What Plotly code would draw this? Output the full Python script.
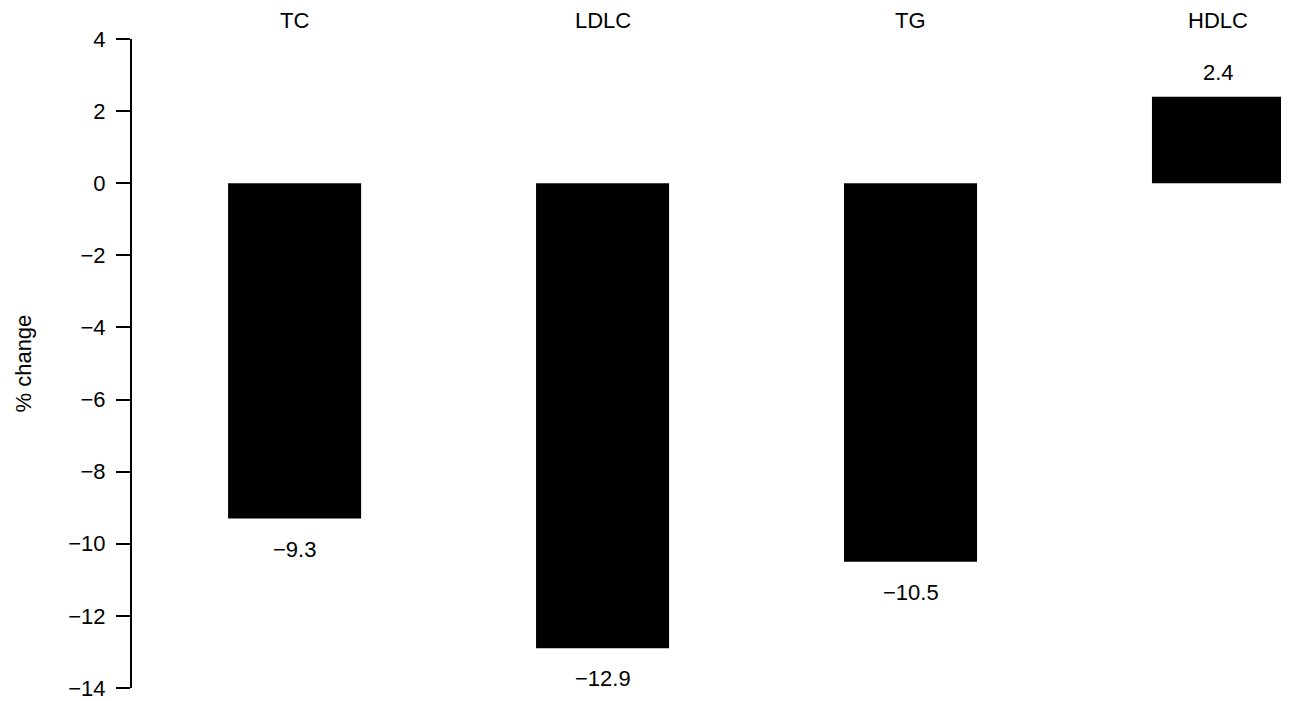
import plotly.graph_objects as go

categories = ["TC", "LDLC", "TG", "HDLC"]
values = [-9.3, -12.9, -10.5, 2.4]
y_ticks = [-14, -12, -10, -8, -6, -4, -2, 0, 2, 4]
y_title = "% change"

FONT = "Liberation Sans, Arial, Helvetica, sans-serif"
FS = 22
xs = list(range(len(categories)))

fig = go.Figure()
fig.add_trace(go.Bar(
    x=xs, y=values, width=0.432,
    marker=dict(color="black", line=dict(width=0)),
    hoverinfo="skip",
))

def fmt(v):
    s = f"{abs(v):.1f}"
    return ("\u2212" + s) if v < 0 else s

for xi, v, c in zip(xs, values, categories):
    fig.add_annotation(x=xi, y=v, xref="x", yref="y", text=fmt(v),
                       showarrow=False,
                       yanchor="top" if v < 0 else "bottom",
                       yshift=-16 if v < 0 else 10,
                       font=dict(family=FONT, size=FS, color="black"))
    fig.add_annotation(x=xi, y=1, xref="x", yref="paper", text=c,
                       showarrow=False, yanchor="bottom", yshift=4,
                       font=dict(family=FONT, size=FS, color="black"))

fig.add_annotation(x=-0.0942, y=0.5, xref="paper", yref="paper", text=y_title,
                   showarrow=False, textangle=-90, xanchor="center", yanchor="middle",
                   font=dict(family=FONT, size=FS, color="black"))

fig.update_layout(
    width=1281, height=693,
    margin=dict(l=124, r=0, t=31, b=13, autoexpand=False),
    paper_bgcolor="white", plot_bgcolor="white",
    showlegend=False,
    font=dict(family=FONT, size=FS, color="black"),
    xaxis=dict(range=[-0.528, 3.229], showticklabels=False, showgrid=False,
               zeroline=False, showline=False, ticks=""),
    yaxis=dict(range=[-14, 4], tickvals=y_ticks, showgrid=False, zeroline=False,
               showline=True, linecolor="black", linewidth=2,
               ticks="outside", ticklen=14, tickwidth=2, tickcolor="black",
               ticklabelstandoff=6, ticklabeloverflow="allow",
               tickfont=dict(family=FONT, size=FS, color="black")),
)

fig.write_html("out.html")
